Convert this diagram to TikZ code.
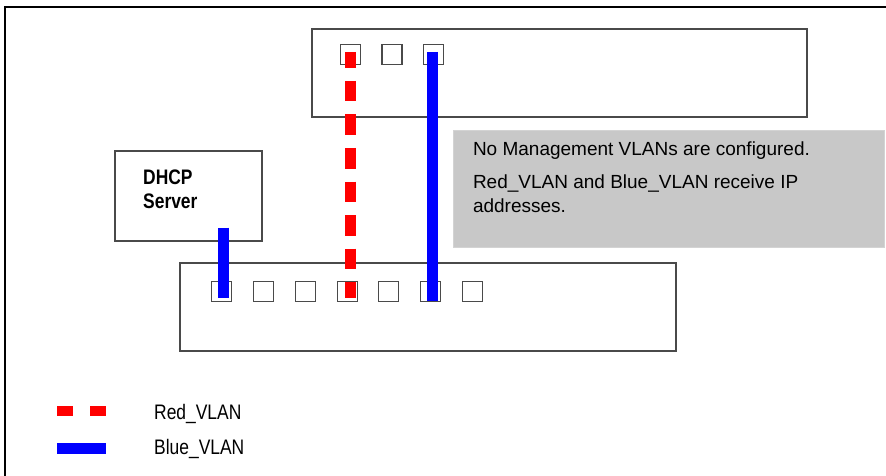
\documentclass[tikz,border=0pt]{standalone}
\usepackage{fontspec}
\setmainfont{Liberation Sans}
\newfontfamily\condfont{Liberation Sans}[FakeStretch=0.83]
\usepackage{xcolor}
\usetikzlibrary{positioning}
\definecolor{boxgray}{HTML}{C8C8C8}
\definecolor{edgegray}{HTML}{4A4A4A}

\begin{document}
\begin{tikzpicture}[x=1pt, y=-1pt,
  switch/.style={draw=edgegray, line width=1.2pt, minimum width=495pt,
                 minimum height=88pt, inner sep=0pt},
  port/.style={draw=edgegray, line width=1.2pt, minimum size=20pt, inner sep=0pt},
  server/.style={draw=edgegray, line width=1.2pt, minimum width=147pt,
                 minimum height=90pt, inner sep=0pt},
  note/.style={fill=boxgray, draw=boxgray!80!white, minimum width=431pt,
               minimum height=117pt, inner sep=0pt},
  notetext/.style={font=\fontsize{19}{24}\selectfont, align=left, inner sep=0pt},
  srvtext/.style={font=\condfont\fontsize{21}{24}\selectfont\bfseries, align=left, inner sep=0pt},
  legtext/.style={font=\condfont\fontsize{21}{21}\selectfont, anchor=base west, inner sep=0pt},
  redvlan/.style={red, line width=11pt, dash pattern=on 20.5pt off 13pt, dash phase=4.5pt},
  bluevlan/.style={blue, line width=11pt}]
\useasboundingbox (0,0) rectangle (886,476);

% outer frame
\draw[line width=2.2pt] (5,476) -- (5,7) -- (886,7);

% switches
\node[switch] (Top) at (559.5,73) {};
\node[switch, minimum width=496pt] (Bot) at (428,307) {};
\node[server] (DHCP) at (188.5,196) {};
\node[srvtext, anchor=north west] (DHCPtxt) at (143,170) {DHCP\\Server};

% note
\node[note] (Note) at (668.5,188.5) {};
\node[notetext, anchor=north west] (NoteTxt) at ([xshift=20pt,yshift=-12pt]Note.north west)
  {No Management VLANs are configured.\\[9pt]
   Red\_VLAN and Blue\_VLAN receive IP\\ addresses.};

% ports
\node[port] (T1) at (350.5,54.5) {};
\node[port] (T2) at (392,54.5) {};
\node[port] (T3) at (433.5,54.5) {};
\node[port] (P1) at (221.5,291.5) {};
\node[port] (P2) at (263.5,291.5) {};
\node[port] (P3) at (305.5,291.5) {};
\node[port] (P4) at (347.5,291.5) {};
\node[port] (P5) at (388.5,291.5) {};
\node[port] (P6) at (430.5,291.5) {};
\node[port] (P7) at (472.5,291.5) {};

% vlan links
\draw[redvlan] ([yshift=2.5pt]T1.center) -- ([yshift=4pt]T1.center |- P4.south);
\draw[bluevlan] ([xshift=-1.5pt,yshift=2.5pt]T3.center) -- ([xshift=-1.5pt,yshift=1pt]T3.center |- P6.south);
\draw[bluevlan] ([xshift=2pt,yshift=14pt]P1.center |- DHCP.south) -- ([xshift=2pt,yshift=4pt]P1.south);

% legend
\coordinate (RedA) at (57,411);
\coordinate (RedB) at (106,411);
\coordinate (BlueA) at (57,448.5);
\coordinate (BlueB) at (106,448.5);
\draw[red, line width=10pt, dash pattern=on 16pt off 17pt] (RedA) -- (RedB);
\draw[bluevlan] (BlueA) -- (BlueB);
\node[legtext] (RedLbl) at (154,419) {Red\_VLAN};
\node[legtext] (BlueLbl) at (154,454) {Blue\_VLAN};
\end{tikzpicture}
\end{document}
